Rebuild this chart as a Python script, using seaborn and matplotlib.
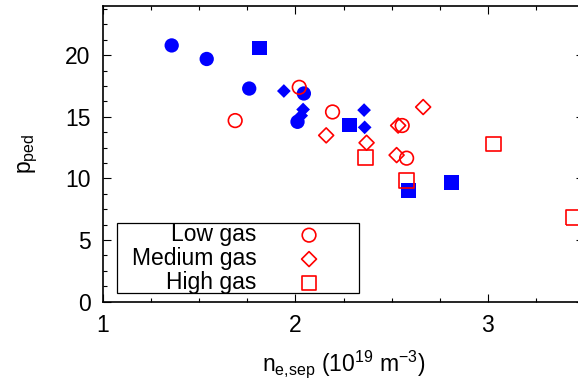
import matplotlib
matplotlib.use("Agg")
import matplotlib.pyplot as plt
import seaborn as sns
import pandas as pd
from matplotlib.ticker import MultipleLocator
from matplotlib.patches import Rectangle

# ---- data ----
blue_circle_x = [1.357, 1.539, 1.76, 2.044, 2.011]
blue_circle_y = [20.8, 19.7, 17.3, 16.9, 14.6]

blue_diamond_x = [1.94, 2.04, 2.03, 2.357, 2.36]
blue_diamond_y = [17.1, 15.6, 15.1, 15.55, 14.15]

blue_square_x = [1.812, 2.28, 2.586, 2.81]
blue_square_y = [20.6, 14.35, 9.0, 9.7]

low_gas_x = [2.02, 1.687, 2.193, 2.555, 2.578]
low_gas_y = [17.4, 14.7, 15.4, 14.3, 11.65]

medium_gas_x = [2.16, 2.664, 2.534, 2.37, 2.526]
medium_gas_y = [13.5, 15.8, 14.3, 12.9, 11.9]

high_gas_x = [2.366, 2.579, 3.03, 3.443]
high_gas_y = [11.7, 9.84, 12.8, 6.83]

legend_labels = ["Low gas", "Medium gas", "High gas"]
x_ticks = [1, 2, 3]
y_ticks = [0, 5, 10, 15, 20]

# ---- style ----
sns.set_style("ticks", {"text.color": "black", "axes.labelcolor": "black",
                        "xtick.color": "black", "ytick.color": "black",
                        "axes.edgecolor": "black"})
plt.rcParams["font.family"] = ["Liberation Sans", "DejaVu Sans"]
plt.rcParams["mathtext.fontset"] = "custom"
plt.rcParams["mathtext.rm"] = "Liberation Sans"
plt.rcParams["mathtext.it"] = "Liberation Sans:italic"
FS = 16.5

fig = plt.figure(figsize=(5.78, 3.82), dpi=100)
ax = fig.add_axes([103 / 578, (382 - 301.7) / 382, 481 / 578, 295.7 / 382])

BLUE = "#0000ff"
RED = "#ff0000"

def df(x, y):
    return pd.DataFrame({"x": x, "y": y})

# blue filled
sns.scatterplot(data=df(blue_circle_x, blue_circle_y), x="x", y="y", ax=ax,
                marker="o", s=10.3 ** 2, color=BLUE, edgecolor="none",
                linewidth=0, legend=False, zorder=3)
sns.scatterplot(data=df(blue_diamond_x, blue_diamond_y), x="x", y="y", ax=ax,
                marker="D", s=7.0 ** 2, color=BLUE, edgecolor="none",
                linewidth=0, legend=False, zorder=3)
sns.scatterplot(data=df(blue_square_x, blue_square_y), x="x", y="y", ax=ax,
                marker="s", s=10.6 ** 2, color=BLUE, edgecolor="none",
                linewidth=0, legend=False, zorder=3)

# red open
sns.scatterplot(data=df(low_gas_x, low_gas_y), x="x", y="y", ax=ax,
                marker="o", s=9.8 ** 2, facecolors="none", edgecolor=RED,
                linewidth=1.2, label=legend_labels[0], zorder=4)
sns.scatterplot(data=df(medium_gas_x, medium_gas_y), x="x", y="y", ax=ax,
                marker="D", s=7.6 ** 2, facecolors="none", edgecolor=RED,
                linewidth=1.2, label=legend_labels[1], zorder=4)
sns.scatterplot(data=df(high_gas_x, high_gas_y), x="x", y="y", ax=ax,
                marker="s", s=10.6 ** 2, facecolors="none", edgecolor=RED,
                linewidth=1.2, label=legend_labels[2], zorder=4)

ax.set_xlim(1, 3.5)
ax.set_ylim(0, 24)
ax.set_xticks(x_ticks)
ax.set_yticks(y_ticks)
ax.xaxis.set_minor_locator(MultipleLocator(0.25))
ax.yaxis.set_minor_locator(MultipleLocator(1.25))
ax.tick_params(which="both", direction="in", top=True, right=True,
               labelsize=FS, width=0.8, color="black", labelcolor="black")
ax.tick_params(which="major", length=6, pad=9)
ax.tick_params(which="minor", length=3)
for sp in ax.spines.values():
    sp.set_visible(True)
    sp.set_linewidth(1.2)
    sp.set_color("black")

ax.set_xlabel(r"$\mathregular{n_{e{,}sep}\ (10^{19}\ m^{-3})}$", fontsize=FS,
              labelpad=8, color="black")
ax.set_ylabel(r"$\mathregular{p_{ped}}$", fontsize=FS, labelpad=18, color="black")

# legend (gnuplot-like: right-aligned text, then sample), with a separate frame
leg = ax.legend(loc="lower right", bbox_to_anchor=(0.476, 0.026),
                borderaxespad=0, markerfirst=False, frameon=False,
                fontsize=FS, handlelength=2.0, handletextpad=1.3,
                labelspacing=0.04, borderpad=0.0, scatterpoints=1)
for t in leg.get_texts():
    t.set_color("black")
ax.add_patch(Rectangle((0.0291, 0.0294), 0.532 - 0.0291, 0.266 - 0.0294,
                       transform=ax.transAxes, fill=True, facecolor="white",
                       edgecolor="black", linewidth=0.9, zorder=5))
leg.set_zorder(6)

fig.savefig("out.png", dpi=100)
